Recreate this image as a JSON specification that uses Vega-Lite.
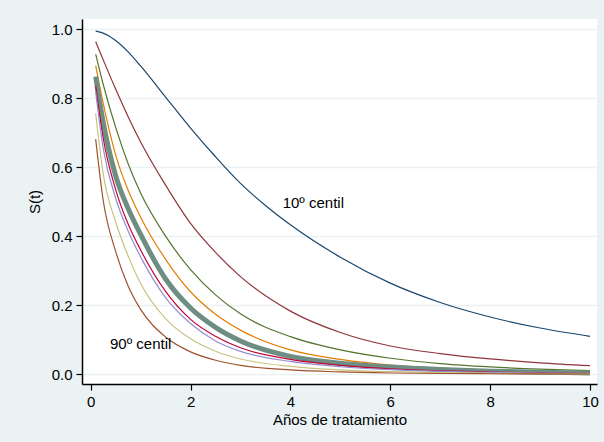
{
  "$schema": "https://vega.github.io/schema/vega-lite/v6.json",
  "width": 515,
  "height": 365,
  "autosize": {"type": "none"},
  "padding": {"left": 82, "top": 19, "right": 7, "bottom": 58},
  "background": "#eaf2f3",
  "config": {
    "view": {"fill": "white", "stroke": null},
    "font": "Liberation Sans",
    "axis": {
      "domainColor": "#000000",
      "domainWidth": 1.5,
      "tickColor": "#000000",
      "tickWidth": 1.2,
      "tickSize": 6,
      "labelFontSize": 15,
      "titleFontSize": 15,
      "titleFontWeight": "normal",
      "labelColor": "#000000",
      "titleColor": "#000000",
      "labelFlush": false,
      "labelPadding": 4
    }
  },
  "datasets": {
    "curves": [
      {"c":10,"t":0.1,"S":0.994},{"c":10,"t":0.25,"S":0.988},{"c":10,"t":0.5,"S":0.967},{"c":10,"t":0.75,"S":0.934},{"c":10,"t":1,"S":0.893},{"c":10,"t":1.5,"S":0.803},{"c":10,"t":2,"S":0.713},{"c":10,"t":2.5,"S":0.630},{"c":10,"t":3,"S":0.553},{"c":10,"t":3.5,"S":0.489},{"c":10,"t":4,"S":0.433},{"c":10,"t":5,"S":0.339},{"c":10,"t":6,"S":0.264},{"c":10,"t":7,"S":0.208},{"c":10,"t":8,"S":0.166},{"c":10,"t":9,"S":0.134},{"c":10,"t":10,"S":0.110},
      {"c":20,"t":0.1,"S":0.963},{"c":20,"t":0.25,"S":0.911},{"c":20,"t":0.5,"S":0.826},{"c":20,"t":0.75,"S":0.746},{"c":20,"t":1,"S":0.673},{"c":20,"t":1.5,"S":0.548},{"c":20,"t":2,"S":0.437},{"c":20,"t":2.5,"S":0.353},{"c":20,"t":3,"S":0.283},{"c":20,"t":4,"S":0.183},{"c":20,"t":5,"S":0.121},{"c":20,"t":6,"S":0.082},{"c":20,"t":7,"S":0.060},{"c":20,"t":8,"S":0.0445},{"c":20,"t":9,"S":0.0333},{"c":20,"t":10,"S":0.025},
      {"c":30,"t":0.1,"S":0.927},{"c":30,"t":0.25,"S":0.84},{"c":30,"t":0.5,"S":0.715},{"c":30,"t":0.75,"S":0.61},{"c":30,"t":1,"S":0.525},{"c":30,"t":1.5,"S":0.400},{"c":30,"t":2,"S":0.303},{"c":30,"t":2.5,"S":0.230},{"c":30,"t":3,"S":0.175},{"c":30,"t":4,"S":0.109},{"c":30,"t":5,"S":0.0706},{"c":30,"t":6,"S":0.0464},{"c":30,"t":7,"S":0.031},{"c":30,"t":8,"S":0.0215},{"c":30,"t":9,"S":0.015},{"c":30,"t":10,"S":0.0105},
      {"c":40,"t":0.1,"S":0.894},{"c":40,"t":0.25,"S":0.785},{"c":40,"t":0.5,"S":0.635},{"c":40,"t":0.75,"S":0.533},{"c":40,"t":1,"S":0.455},{"c":40,"t":1.5,"S":0.333},{"c":40,"t":2,"S":0.239},{"c":40,"t":2.5,"S":0.174},{"c":40,"t":3,"S":0.128},{"c":40,"t":4,"S":0.0706},{"c":40,"t":5,"S":0.043},{"c":40,"t":6,"S":0.027},{"c":40,"t":7,"S":0.018},{"c":40,"t":8,"S":0.0122},{"c":40,"t":9,"S":0.0085},{"c":40,"t":10,"S":0.006},
      {"c":50,"t":0.1,"S":0.862},{"c":50,"t":0.25,"S":0.73},{"c":50,"t":0.5,"S":0.575},{"c":50,"t":0.75,"S":0.48},{"c":50,"t":1,"S":0.405},{"c":50,"t":1.5,"S":0.276},{"c":50,"t":2,"S":0.192},{"c":50,"t":2.5,"S":0.136},{"c":50,"t":3,"S":0.0966},{"c":50,"t":4,"S":0.052},{"c":50,"t":5,"S":0.032},{"c":50,"t":6,"S":0.0208},{"c":50,"t":7,"S":0.0137},{"c":50,"t":8,"S":0.009},{"c":50,"t":9,"S":0.006},{"c":50,"t":10,"S":0.004},
      {"c":60,"t":0.1,"S":0.835},{"c":60,"t":0.25,"S":0.685},{"c":60,"t":0.5,"S":0.535},{"c":60,"t":0.75,"S":0.435},{"c":60,"t":1,"S":0.36},{"c":60,"t":1.5,"S":0.24},{"c":60,"t":2,"S":0.159},{"c":60,"t":2.5,"S":0.110},{"c":60,"t":3,"S":0.0767},{"c":60,"t":4,"S":0.0434},{"c":60,"t":5,"S":0.026},{"c":60,"t":6,"S":0.016},{"c":60,"t":7,"S":0.010},{"c":60,"t":8,"S":0.0066},{"c":60,"t":9,"S":0.0044},{"c":60,"t":10,"S":0.003},
      {"c":70,"t":0.1,"S":0.818},{"c":70,"t":0.25,"S":0.655},{"c":70,"t":0.5,"S":0.51},{"c":70,"t":0.75,"S":0.415},{"c":70,"t":1,"S":0.34},{"c":70,"t":1.5,"S":0.222},{"c":70,"t":2,"S":0.147},{"c":70,"t":2.5,"S":0.0966},{"c":70,"t":3,"S":0.0665},{"c":70,"t":4,"S":0.0372},{"c":70,"t":5,"S":0.0219},{"c":70,"t":6,"S":0.0133},{"c":70,"t":7,"S":0.0082},{"c":70,"t":8,"S":0.0055},{"c":70,"t":9,"S":0.0037},{"c":70,"t":10,"S":0.0025},
      {"c":80,"t":0.1,"S":0.756},{"c":80,"t":0.25,"S":0.581},{"c":80,"t":0.5,"S":0.441},{"c":80,"t":0.75,"S":0.343},{"c":80,"t":1,"S":0.263},{"c":80,"t":1.5,"S":0.161},{"c":80,"t":2,"S":0.1026},{"c":80,"t":2.5,"S":0.0669},{"c":80,"t":3,"S":0.0444},{"c":80,"t":4,"S":0.0231},{"c":80,"t":5,"S":0.013},{"c":80,"t":6,"S":0.0076},{"c":80,"t":7,"S":0.0046},{"c":80,"t":8,"S":0.0031},{"c":80,"t":9,"S":0.0022},{"c":80,"t":10,"S":0.0015},
      {"c":90,"t":0.1,"S":0.681},{"c":90,"t":0.25,"S":0.504},{"c":90,"t":0.5,"S":0.356},{"c":90,"t":0.75,"S":0.256},{"c":90,"t":1,"S":0.188},{"c":90,"t":1.5,"S":0.108},{"c":90,"t":2,"S":0.065},{"c":90,"t":2.5,"S":0.0408},{"c":90,"t":3,"S":0.026},{"c":90,"t":4,"S":0.0126},{"c":90,"t":5,"S":0.0068},{"c":90,"t":6,"S":0.0038},{"c":90,"t":7,"S":0.0023},{"c":90,"t":8,"S":0.0016},{"c":90,"t":9,"S":0.0011},{"c":90,"t":10,"S":0.0008}
    ],
    "labels": [
      {"t":3.845,"S":0.4975,"label":"10º centil"},
      {"t":0.387,"S":0.089,"label":"90º centil"}
    ]
  },
  "encoding": {
    "x": {
      "field": "t",
      "type": "quantitative",
      "scale": {"domain": [-0.174, 10.14], "nice": false, "zero": false},
      "axis": {"values": [0, 2, 4, 6, 8, 10], "title": "Años de tratamiento", "grid": false, "titlePadding": 3}
    },
    "y": {
      "field": "S",
      "type": "quantitative",
      "scale": {"domain": [-0.0281, 1.029], "nice": false, "zero": false},
      "axis": {"values": [0, 0.2, 0.4, 0.6, 0.8, 1], "format": ".1f", "title": "S(t)", "grid": true, "gridColor": "#eaf2f3", "gridWidth": 1.3, "titlePadding": 9}
    }
  },
  "layer": [
    {
      "data": {"name": "curves"},
      "transform": [{"filter": "datum.c < 50"}],
      "mark": {"type": "line", "interpolate": "monotone", "strokeWidth": 1.2},
      "encoding": {
        "color": {"field": "c", "type": "nominal", "legend": null,
          "scale": {"domain": [10, 20, 30, 40, 50, 60, 70, 80, 90], "range": ["#1a476f", "#90353b", "#55752f", "#e37e00", "#6e8e84", "#c10534", "#938dd2", "#cac27e", "#a0522d"]}}
      }
    },
    {
      "data": {"name": "curves"},
      "transform": [{"filter": "datum.c == 50"}],
      "mark": {"type": "line", "interpolate": "monotone", "strokeWidth": 5},
      "encoding": {
        "color": {"field": "c", "type": "nominal", "legend": null}
      }
    },
    {
      "data": {"name": "curves"},
      "transform": [{"filter": "datum.c > 50"}],
      "mark": {"type": "line", "interpolate": "monotone", "strokeWidth": 1.2},
      "encoding": {
        "color": {"field": "c", "type": "nominal", "legend": null}
      }
    },
    {
      "data": {"name": "labels"},
      "mark": {"type": "text", "align": "left", "baseline": "middle", "fontSize": 15, "font": "Liberation Sans", "color": "#000000"},
      "encoding": {
        "text": {"field": "label", "type": "nominal"}
      }
    }
  ]
}
